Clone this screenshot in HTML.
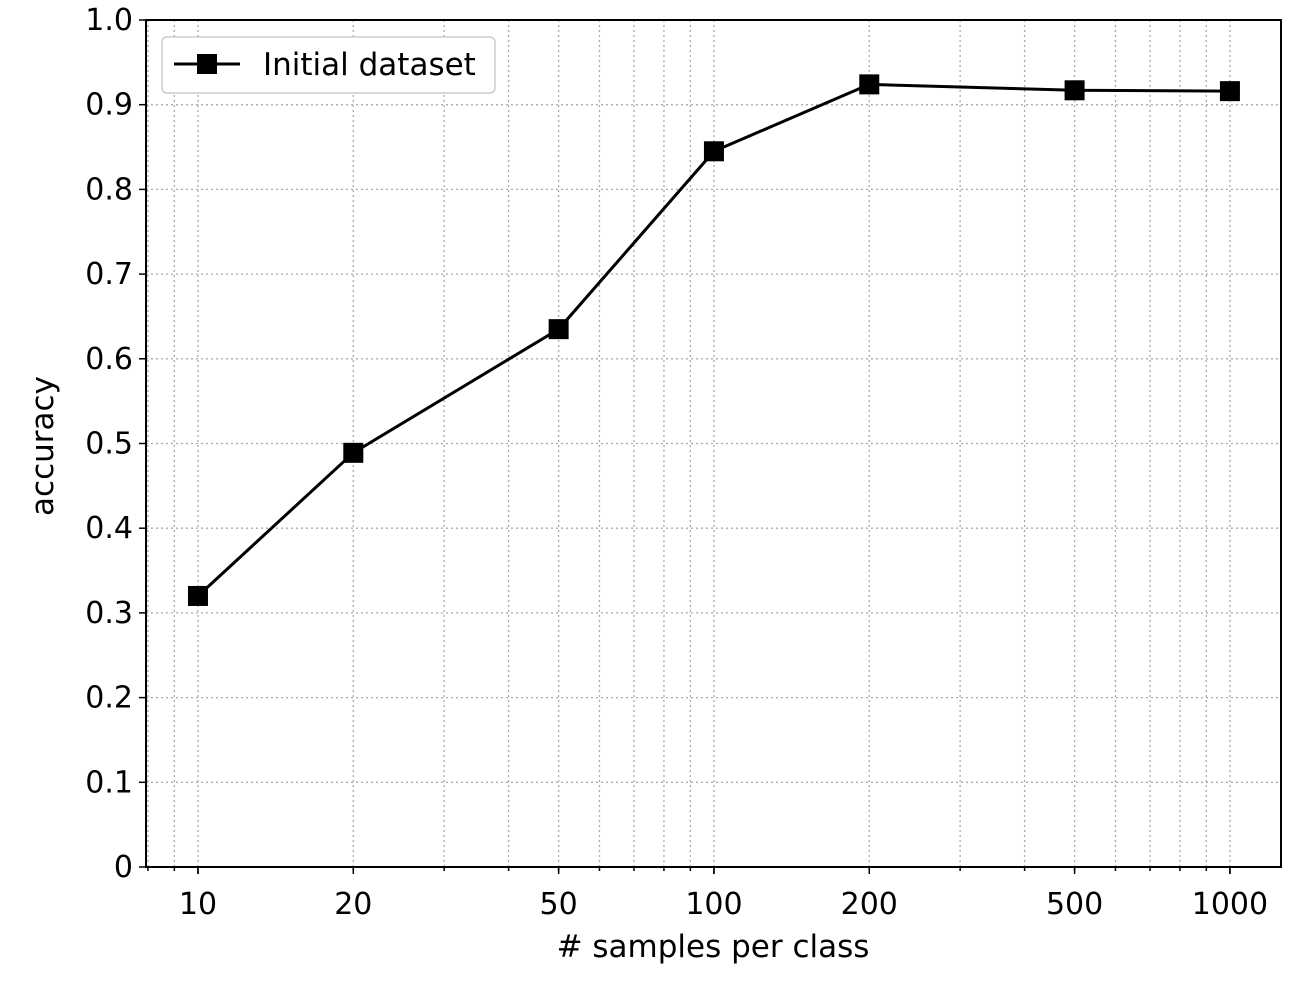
<!DOCTYPE html>
<html><head><meta charset="utf-8"><style>
body{margin:0;background:#fff;}
svg text{font-family:"DejaVu Sans","Liberation Sans",sans-serif;fill:#000;}
</style></head><body>
<svg id="chart" width="1306" height="982" xmlns="http://www.w3.org/2000/svg">
<g id="grid"></g>
<g id="ticks"></g>
<g id="series"></g>
<rect x="146" y="20" width="1135" height="847" fill="none" stroke="#000" stroke-width="2"/>
<text x="713" y="957" font-size="31" text-anchor="middle"># samples per class</text>
<text transform="translate(53,446) rotate(-90)" font-size="31" text-anchor="middle">accuracy</text>
<g>
<rect x="162" y="37" width="333" height="56" rx="5" fill="#fff" stroke="#ccc" stroke-width="1.5"/>
<line x1="174" y1="64" x2="240" y2="64" stroke="#000" stroke-width="3"/>
<rect x="197" y="54" width="20" height="20" fill="#000"/>
<text x="263" y="75" font-size="31">Initial dataset</text>
</g>
</svg>
<script>
const categories=[10,20,50,100,200,500,1000];
const accuracy=[0.32,0.489,0.635,0.845,0.924,0.917,0.916];
const xTickLabels=["10","20","50","100","200","500","1000"];
const yTickValues=[0,0.1,0.2,0.3,0.4,0.5,0.6,0.7,0.8,0.9,1.0];
const yTickLabels=["0","0.1","0.2","0.3","0.4","0.5","0.6","0.7","0.8","0.9","1.0"];
const L=146,R=1281,T=20,B=867;
const xmin=Math.log10(7.93),xmax=Math.log10(1256);
const X=v=>L+(Math.log10(v)-xmin)/(xmax-xmin)*(R-L);
const Y=v=>B-v*(B-T);
const NS="http://www.w3.org/2000/svg";
function mk(tag,parent,attrs){const e=document.createElementNS(NS,tag);for(const k in attrs)e.setAttribute(k,attrs[k]);parent.appendChild(e);return e;}
const grid=document.getElementById('grid'),ticks=document.getElementById('ticks'),series=document.getElementById('series');
for(let d=1;d<=1000;d*=10){for(let m=1;m<10;m++){const v=d*m;const x=X(v);if(x<L||x>R)continue;
 const g=mk('line',grid,{x1:x,x2:x,y1:T,y2:B,stroke:'#aaa','stroke-width':1.3,'stroke-dasharray':'2,3'});
 
 
 const t=mk('line',ticks,{x1:x,x2:x,y1:B,y2:B+(m===1?7:4),stroke:'#000','stroke-width':1.5});
 
 }}
categories.forEach((c,i)=>{const x=X(c);
 const t=mk('line',ticks,{x1:x,x2:x,y1:B,y2:B+7,stroke:'#000','stroke-width':1.5});
 
 
 const tx=mk('text',ticks,{x:x,y:B+47,'font-size':30,'text-anchor':'middle'});tx.textContent=xTickLabels[i];
 
 });
yTickValues.forEach((v,i)=>{const y=Y(v);
 const g=mk('line',grid,{x1:L,x2:R,y1:y,y2:y,stroke:'#aaa','stroke-width':1.3,'stroke-dasharray':'2,3'});
 
 
 const t=mk('line',ticks,{x1:L-7,x2:L,y1:y,y2:y,stroke:'#000','stroke-width':1.5});
 
 
 const tx=mk('text',ticks,{x:L-13,y:y+10,'font-size':30,'text-anchor':'end'});tx.textContent=yTickLabels[i];
 
 });
const pl=mk('polyline',series,{points:categories.map((c,i)=>X(c)+','+Y(accuracy[i])).join(' '),fill:'none',stroke:'#000','stroke-width':3});


categories.forEach((c,i)=>{const r=mk('rect',series,{x:X(c)-10,y:Y(accuracy[i])-10,width:20,height:20,fill:'#000'});
 
 });
</script>
</body></html>
